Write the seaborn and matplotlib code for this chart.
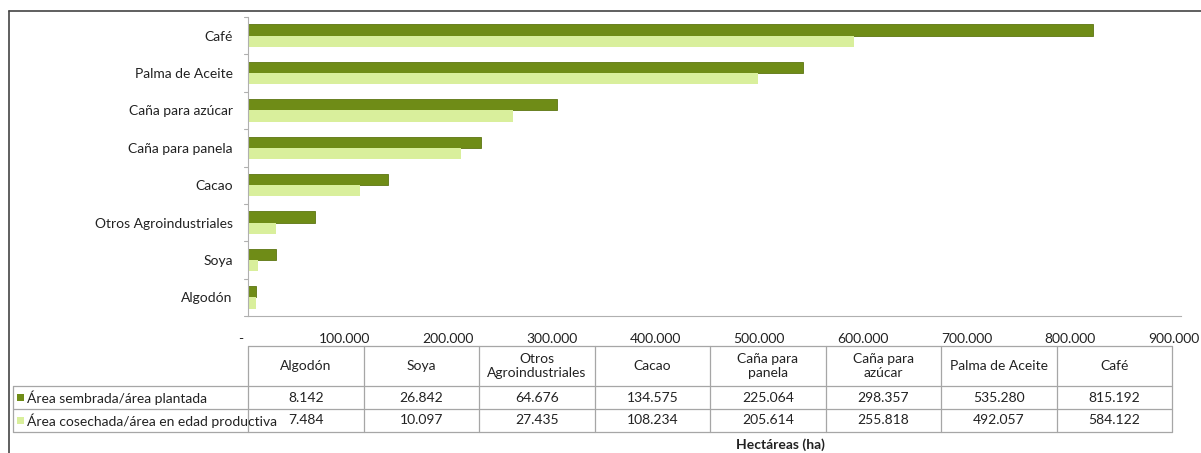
import matplotlib
matplotlib.use("Agg")
import matplotlib.pyplot as plt
import matplotlib.transforms as mtransforms
from matplotlib.patches import Rectangle
from matplotlib.ticker import FuncFormatter, MultipleLocator
import seaborn as sns
import pandas as pd

# Crops in table order (smallest to largest)
crops = ["Algodón", "Soya", "Otros Agroindustriales", "Cacao",
         "Caña para panela", "Caña para azúcar", "Palma de Aceite", "Café"]
header_labels = ["Algodón", "Soya", "Otros\nAgroindustriales", "Cacao",
                 "Caña para\npanela", "Caña para\nazúcar", "Palma de Aceite", "Café"]
series = ["Área sembrada/área plantada",
          "Área cosechada/área en edad productiva"]
sembrada = [8142, 26842, 64676, 134575, 225064, 298357, 535280, 815192]
cosechada = [7484, 10097, 27435, 108234, 205614, 255818, 492057, 584122]
colors = ["#6f8c17", "#d9ef9c"]
x_label = "Hectáreas (ha)"

def miles(v):
    return f"{int(round(v)):,}".replace(",", ".")

df = pd.DataFrame({
    "cultivo": crops * 2,
    "serie": [series[0]] * len(crops) + [series[1]] * len(crops),
    "ha": sembrada + cosechada,
})

sns.set_theme(style="white")
plt.rcParams["font.family"] = ["Lato", "DejaVu Sans"]
FS = 10

W, H = 1201, 453
fig = plt.figure(figsize=(W / 100, H / 100), dpi=100)

def fx(px):
    return px / W

def fy(py):
    return 1 - py / H

ax_l, ax_r, ax_t, ax_b = 248, 1181, 17, 316
ax = fig.add_axes([fx(ax_l), fy(ax_b), fx(ax_r - ax_l), fy(ax_t) - fy(ax_b)])

sns.barplot(data=df, y="cultivo", x="ha", hue="serie", order=crops[::-1],
            hue_order=series, palette=colors, orient="h", width=0.6,
            dodge=True, ax=ax, legend=False, saturation=1,
            edgecolor="none")
for bar in ax.patches[:len(crops)]:
    bar.set_edgecolor("#5d7512")
    bar.set_linewidth(0.6)

ax.set_xlim(0, 900000)
ax.set_ylim(len(crops) - 0.5, -0.5)
ax.xaxis.set_major_locator(MultipleLocator(100000))
ax.xaxis.set_major_formatter(FuncFormatter(lambda v, p: "-" if v == 0 else miles(v)))
ax.set_xlabel("")
ax.set_ylabel("")

for s in ["top", "right"]:
    ax.spines[s].set_visible(False)
for s in ["left", "bottom"]:
    ax.spines[s].set_color("#b0b0b0")
    ax.spines[s].set_linewidth(0.8)

ax.tick_params(axis="x", direction="in", length=4, color="#b0b0b0", width=0.8,
               labelsize=FS, labelcolor="#222222", pad=12)
ax.tick_params(axis="y", length=0, labelsize=FS, labelcolor="#222222", pad=11)

# value labels sit a little left of their ticks
shift = mtransforms.ScaledTranslation(-7 / 100, 0, fig.dpi_scale_trans)
for lab in ax.get_xticklabels():
    lab.set_transform(lab.get_transform() + shift)

# category boundary ticks on the y axis
for k in range(len(crops) + 1):
    ax.plot([-0.004, 0], [k - 0.5, k - 0.5], transform=ax.get_yaxis_transform(),
            color="#b0b0b0", lw=0.8, clip_on=False)

# Data table below the axis
tab = fig.add_axes([0, 0, 1, 1])
tab.set_xlim(0, W)
tab.set_ylim(H, 0)
tab.axis("off")

grid = "#a6a6a6"
lbl_l = 13
tab_r = 1172
y_h0, y_h1, y_r1, y_r2 = 346, 386, 409, 432
col_w = (tab_r - ax_l) / len(crops)
lw = 0.9

# horizontal lines
tab.plot([ax_l, tab_r], [y_h0, y_h0], color=grid, lw=lw)
for yy in (y_h1, y_r1, y_r2):
    tab.plot([lbl_l, tab_r], [yy, yy], color=grid, lw=lw)
# vertical lines
tab.plot([lbl_l, lbl_l], [y_h1, y_r2], color=grid, lw=lw)
for k in range(len(crops) + 1):
    xx = ax_l + k * col_w
    tab.plot([xx, xx], [y_h0, y_r2], color=grid, lw=lw)

tcol = "#222222"
for k, lab in enumerate(header_labels):
    cx = ax_l + (k + 0.5) * col_w
    tab.text(cx, (y_h0 + y_h1) / 2, lab, ha="center", va="center",
             fontsize=FS, color=tcol, linespacing=1.2)
    tab.text(cx, (y_h1 + y_r1) / 2, miles(sembrada[k]), ha="center",
             va="center", fontsize=FS, color=tcol)
    tab.text(cx, (y_r1 + y_r2) / 2, miles(cosechada[k]), ha="center",
             va="center", fontsize=FS, color=tcol)

for (y0, y1), name, c in zip([(y_h1, y_r1), (y_r1, y_r2)], series, colors):
    cy = (y0 + y1) / 2
    tab.add_patch(Rectangle((17, cy - 4), 7, 7, color=c, lw=0))
    tab.text(27, cy, name, ha="left", va="center", fontsize=FS, color=tcol)

tab.text(780, 445, x_label, ha="center", va="center", fontsize=FS,
         fontweight="bold", color=tcol)

# Outer frame (left and top edges)
tab.plot([9, 9], [11, H + 5], color="#444444", lw=1.2, clip_on=False)
tab.plot([9, W + 5], [11, 11], color="#444444", lw=1.2, clip_on=False)

fig.savefig("out.png", dpi=100, facecolor="white")
